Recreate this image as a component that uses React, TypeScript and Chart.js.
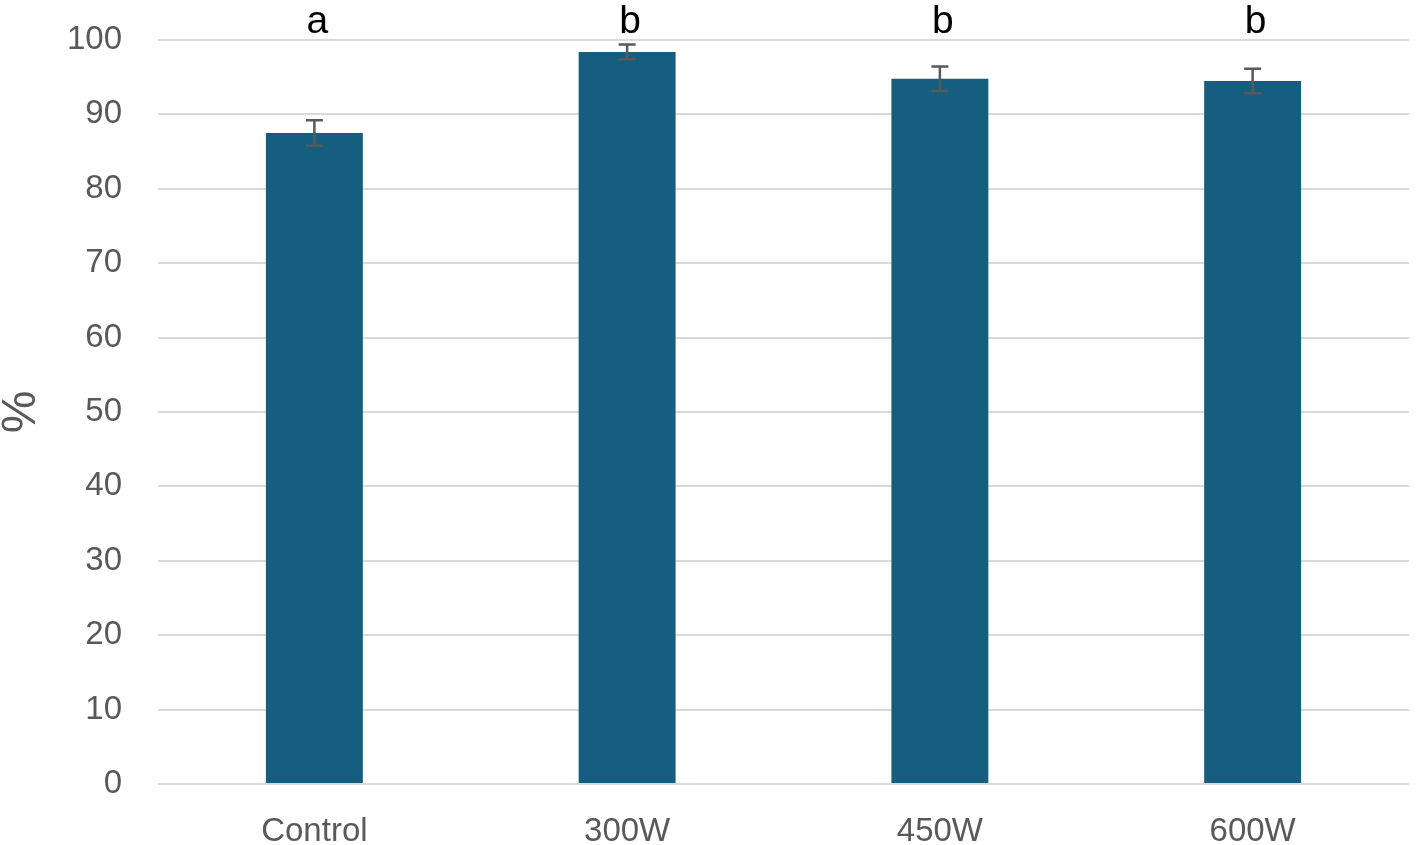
import React, { useEffect, useRef } from "react";
import { Chart, registerables } from "chart.js";

Chart.register(...registerables);

const categories = ["Control", "300W", "450W", "600W"];
const values = [87.5, 98.4, 94.8, 94.5];
const errors = [1.7, 1.0, 1.65, 1.65];
const letters = ["a", "b", "b", "b"];
const yTicks = [0, 10, 20, 30, 40, 50, 60, 70, 80, 90, 100];

const FONT = "'Liberation Sans', Arial, sans-serif";
const GREY = "#595959";

const errorBarPlugin = {
  id: "errorBars",
  afterDatasetsDraw(chart: any) {
    const { ctx, scales } = chart;
    const x = scales.x;
    const y = scales.y;
    ctx.save();
    ctx.strokeStyle = GREY;
    ctx.lineWidth = 2.5;
    const cap = 8.5;
    values.forEach((v, i) => {
      const px = x.getPixelForValue(i);
      const top = y.getPixelForValue(v + errors[i]);
      const bot = y.getPixelForValue(v - errors[i]);
      ctx.beginPath();
      ctx.moveTo(px, top);
      ctx.lineTo(px, bot);
      ctx.moveTo(px - cap, top);
      ctx.lineTo(px + cap, top);
      ctx.moveTo(px - cap, bot);
      ctx.lineTo(px + cap, bot);
      ctx.stroke();
    });
    ctx.restore();
  },
};

const lettersPlugin = {
  id: "letters",
  afterDraw(chart: any) {
    const { ctx, scales } = chart;
    const x = scales.x;
    const y = scales.y;
    ctx.save();
    ctx.fillStyle = "#000000";
    ctx.font = `39px ${FONT}`;
    ctx.textAlign = "center";
    ctx.textBaseline = "alphabetic";
    letters.forEach((l, i) => {
      const px = x.getPixelForValue(i) + 3;
      const py = y.getPixelForValue(100) - 7;
      ctx.fillText(l, px, py);
    });
    ctx.restore();
  },
};

export default function App() {
  const ref = useRef<HTMLCanvasElement>(null);

  useEffect(() => {
    if (!ref.current) return;
    const chart = new Chart(ref.current, {
      type: "bar",
      data: {
        labels: categories,
        datasets: [
          {
            data: values,
            backgroundColor: "#165E80",
            borderWidth: 0,
            barPercentage: 0.31,
            categoryPercentage: 1,
          },
        ],
      },
      options: {
        animation: false,
        responsive: false,
        maintainAspectRatio: false,
        devicePixelRatio: 1,
        layout: { padding: { left: 0, right: 8, top: 40, bottom: 0 } },
        plugins: {
          legend: { display: false },
          tooltip: { enabled: false },
        },
        scales: {
          x: {
            grid: { display: false, drawTicks: false },
            border: { display: false },
            ticks: {
              color: GREY,
              font: { family: FONT, size: 33 },
              padding: 28,
              maxRotation: 0,
            },
            afterFit(scale: any) {
              scale.height = 61;
              scale.paddingLeft = 0;
              scale.paddingRight = 0;
            },
          },
          y: {
            min: 0,
            max: 100,
            afterBuildTicks(scale: any) {
              scale.ticks = yTicks.map((v) => ({ value: v }));
            },
            grid: { color: "#d9d9d9", lineWidth: 2, drawTicks: false },
            border: { display: false },
            ticks: {
              color: GREY,
              font: { family: FONT, size: 33 },
              padding: 36,
            },
            title: {
              display: true,
              text: "%",
              color: GREY,
              font: { family: FONT, size: 48, lineHeight: 0.9 },
              padding: 0,
            },
            afterFit(scale: any) {
              scale.width = 158;
              scale.paddingTop = 0;
              scale.paddingBottom = 0;
            },
          },
        },
      },
      plugins: [errorBarPlugin, lettersPlugin],
    });
    return () => chart.destroy();
  }, []);

  return (
    <div style={{ position: "fixed", left: 0, top: 0, width: 1417, height: 845, background: "#fff" }}>
      <canvas ref={ref} width={1417} height={845} style={{ width: 1417, height: 845 }} />
    </div>
  );
}
